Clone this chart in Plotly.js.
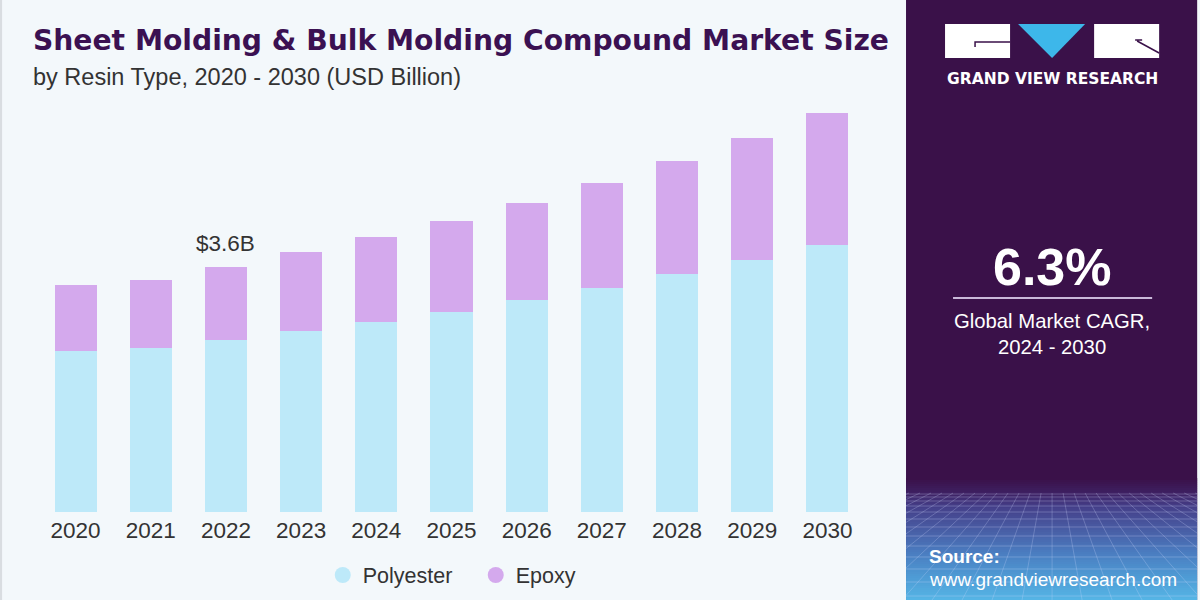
<!DOCTYPE html>
<html>
<head>
<meta charset="utf-8">
<script src="https://cdn.plot.ly/plotly-3.0.1.min.js"></script>
<style>
html,body{margin:0;padding:0;background:#f3f8fb;}
#chart{width:1200px;height:600px;}
</style>
</head>
<body>
<div id="chart"></div>
<script>
// ---- data ----
const years = ['2020','2021','2022','2023','2024','2025','2026','2027','2028','2029','2030'];
const polyester = [2.37, 2.41, 2.52, 2.66, 2.79, 2.94, 3.11, 3.29, 3.49, 3.70, 3.92];
const epoxy = [0.96, 0.99, 1.08, 1.15, 1.25, 1.33, 1.43, 1.54, 1.66, 1.79, 1.93];
const seriesNames = ['Polyester', 'Epoxy'];
const highlightYear = '2022';
const highlightLabel = '&#36;3.6B';
const cagrValue = '6.3%';
const cagrText = 'Global Market CAGR,<br>2024 - 2030';

// ---- layout geometry ----
const W = 1200, H = 600;
const ML = 38.4, MR = 335, MT = 100, MB = 88;
const PW = W - ML - MR, PH = H - MT - MB;
const X = px => (px - ML) / PW;
const Y = py => (H - MB - py) / PH;

const colPoly = '#bde9f9';
const colEpoxy = '#d4a9ed';
const bg = '#f3f8fb';
const panel = '#3a1149';
const titleCol = '#3b1152';
const textCol = '#333333';
const FONT = 'Liberation Sans, Arial, sans-serif';

const hlIdx = years.indexOf(highlightYear);
const hlTotal = polyester[hlIdx] + epoxy[hlIdx];

const traces = [
  {type:'bar', x: years, y: polyester, name: seriesNames[0], marker:{color: colPoly}, showlegend:false, hoverinfo:'skip'},
  {type:'bar', x: years, y: epoxy, name: seriesNames[1], marker:{color: colEpoxy}, showlegend:false, hoverinfo:'skip'},
  {type:'scatter', mode:'markers', x:[null], y:[null], name: seriesNames[0], marker:{color: colPoly, size:18, symbol:'circle'}, showlegend:true},
  {type:'scatter', mode:'markers', x:[null], y:[null], name: seriesNames[1], marker:{color: colEpoxy, size:18, symbol:'circle'}, showlegend:true}
];

const shapes = [];
// right panel
shapes.push({type:'rect', xref:'paper', yref:'paper', x0:X(906), x1:X(1197), y0:Y(0), y1:Y(600), fillcolor: panel, line:{width:0}, layer:'below'});
// gradient at the bottom of the panel
const gradStops = [
  [478, [58,17,73]], [492, [62,32,98]], [505, [68,62,136]], [525, [72,88,160]], [550, [74,122,190]], [575, [78,154,212]], [600, [86,182,230]]
];
function lerp(a,b,t){return a+(b-a)*t;}
for (let y = 478; y < 600; y += 2) {
  let c = gradStops[gradStops.length-1][1];
  for (let i = 0; i < gradStops.length-1; i++) {
    const [ya, ca] = gradStops[i], [yb, cb] = gradStops[i+1];
    if (y >= ya && y <= yb) {
      const t = (y - ya) / (yb - ya);
      c = [lerp(ca[0],cb[0],t), lerp(ca[1],cb[1],t), lerp(ca[2],cb[2],t)].map(Math.round);
      break;
    }
  }
  shapes.push({type:'rect', xref:'paper', yref:'paper', x0:X(906), x1:X(1197), y0:Y(y+2.2), y1:Y(y), fillcolor:`rgb(${c[0]},${c[1]},${c[2]})`, line:{width:0}, layer:'below'});
}
// perspective grid
const hLines = [494, 497, 501, 506, 512, 519, 527, 536, 546, 557, 569, 582, 596];
hLines.forEach(y => shapes.push({type:'line', xref:'paper', yref:'paper', x0:X(906), x1:X(1197), y0:Y(y), y1:Y(y), line:{color:'rgba(210,220,255,0.28)', width:1}}));
for (let i = -14; i <= 14; i++) {
  const xt = 1052 + i * 11, xb = 1052 + i * 30;
  let x0 = xt, y0 = 493, x1 = xb, y1 = 600;
  if (x1 < 906 || x1 > 1197) {
    const lim = x1 < 906 ? 906 : 1197;
    const t = (lim - x0) / (x1 - x0);
    if (t <= 0) continue;
    y1 = y0 + (y1 - y0) * t; x1 = lim;
  }
  shapes.push({type:'line', xref:'paper', yref:'paper', x0:X(x0), x1:X(x1), y0:Y(y0), y1:Y(y1), line:{color:'rgba(210,220,255,0.25)', width:1}});
}
// logo
shapes.push({type:'rect', xref:'paper', yref:'paper', x0:X(945), x1:X(1010), y0:Y(58), y1:Y(24), fillcolor:'#ffffff', line:{width:0}});
shapes.push({type:'rect', xref:'paper', yref:'paper', x0:X(1094), x1:X(1159), y0:Y(58), y1:Y(24), fillcolor:'#ffffff', line:{width:0}});
shapes.push({type:'path', xref:'paper', yref:'paper', path:`M ${X(1018)} ${Y(24)} L ${X(1085)} ${Y(24)} L ${X(1052)} ${Y(58)} Z`, fillcolor:'#3db7ea', line:{width:0}});
shapes.push({type:'path', xref:'paper', yref:'paper', path:`M ${X(975)} ${Y(47)} L ${X(975)} ${Y(42)} L ${X(1010)} ${Y(42)}`, line:{color: panel, width:1.5}});
shapes.push({type:'path', xref:'paper', yref:'paper', path:`M ${X(1135)} ${Y(40)} L ${X(1142)} ${Y(40)} M ${X(1137)} ${Y(41)} L ${X(1159)} ${Y(53)}`, line:{color: panel, width:1.5}});
// separator line under CAGR
shapes.push({type:'line', xref:'paper', yref:'paper', x0:X(953), x1:X(1152), y0:Y(298), y1:Y(298), line:{color:'#c9b9d9', width:2}});
// left border strip
shapes.push({type:'rect', xref:'paper', yref:'paper', x0:X(0), x1:X(2.5), y0:Y(600), y1:Y(0), fillcolor:'#d9dde1', line:{width:0}, layer:'below'});

const annotations = [
  {xref:'paper', yref:'paper', x:X(31), y:Y(40), xanchor:'left', yanchor:'middle', showarrow:false,
   text:'<b>Sheet Molding &amp; Bulk Molding Compound Market Size</b>', font:{family:'DejaVu Sans, sans-serif', size:28.2, color:titleCol}},
  {xref:'paper', yref:'paper', x:X(31), y:Y(77), xanchor:'left', yanchor:'middle', showarrow:false,
   text:'by Resin Type, 2020 - 2030 (USD Billion)', font:{family:FONT, size:23.5, color:textCol}},
  {xref:'x', yref:'y', x: hlIdx, y: hlTotal, xanchor:'center', yanchor:'bottom', yshift:9, showarrow:false,
   text: highlightLabel, font:{family:FONT, size:22.5, color:textCol}},
  {xref:'paper', yref:'paper', x:X(1052), y:Y(79), xanchor:'center', yanchor:'middle', showarrow:false,
   text:'<b>GRAND VIEW RESEARCH</b>', font:{family:'DejaVu Sans, sans-serif', size:15.5, color:'#ffffff'}},
  {xref:'paper', yref:'paper', x:X(1052), y:Y(267), xanchor:'center', yanchor:'middle', showarrow:false,
   text:'<b>' + cagrValue + '</b>', font:{family:FONT, size:52, color:'#ffffff'}},
  {xref:'paper', yref:'paper', x:X(1052), y:Y(334), xanchor:'center', yanchor:'middle', showarrow:false,
   text: cagrText, font:{family:FONT, size:20.3, color:'#ffffff'}},
  {xref:'paper', yref:'paper', x:X(927), y:Y(556), xanchor:'left', yanchor:'middle', showarrow:false,
   text:'<b>Source:</b>', font:{family:FONT, size:19, color:'#ffffff'}},
  {xref:'paper', yref:'paper', x:X(927), y:Y(579), xanchor:'left', yanchor:'middle', showarrow:false,
   text:'www.grandviewresearch.com', font:{family:FONT, size:19, color:'#ffffff'}}
];

const layout = {
  width: W, height: H,
  margin: {l: ML, r: MR, t: MT, b: MB, pad: 0, autoexpand: false},
  paper_bgcolor: bg, plot_bgcolor: bg,
  barmode: 'stack', bargap: 0.44,
  showlegend: true,
  legend: {orientation:'h', traceorder:'normal', x: X(323), xanchor:'left', y: Y(575), yanchor:'middle',
           entrywidth: 108, entrywidthmode: 'pixels',
           font:{family:FONT, size:21.5, color:textCol}, bgcolor:'rgba(0,0,0,0)', itemclick:false, itemdoubleclick:false},
  xaxis: {type:'category', range:[-0.5, 10.5], showgrid:false, zeroline:false, showline:false, ticks:'',
          tickfont:{family:FONT, size:22.5, color:textCol}, ticklabelstandoff:2, fixedrange:true},
  yaxis: {range:[0, PH/68.14], showgrid:false, zeroline:false, showline:false, showticklabels:false, ticks:'', fixedrange:true},
  shapes: shapes,
  annotations: annotations,
  font: {family: FONT}
};

Plotly.newPlot('chart', traces, layout, {displayModeBar:false, staticPlot:true});
</script>
</body>
</html>
